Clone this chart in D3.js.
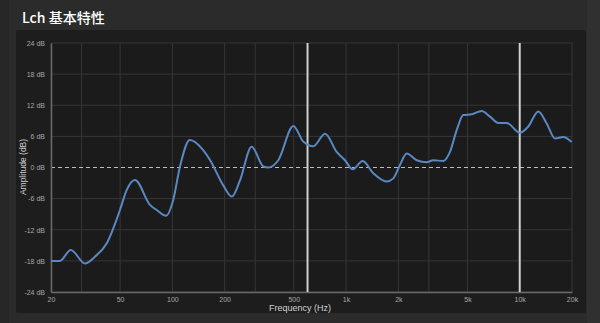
<!DOCTYPE html>
<html>
<head>
<meta charset="utf-8">
<script src="https://cdn.jsdelivr.net/npm/d3@7"></script>
<style>
  html, body { margin: 0; padding: 0; background: #2b2b2b; }
  svg { display: block; }
</style>
</head>
<body>
<svg class="resp" width="600" height="323"></svg>
<script>
// frequency response
const freqs = [20, 22.5, 26, 31.4, 35.8, 41.9, 49.9, 54.6, 60.9, 74.3, 81.2, 91.9, 101, 110.6, 126,
    150, 165, 196, 220, 245, 286, 334, 357, 407, 497, 567, 648, 757, 883, 986, 1092, 1247,
    1435, 1714, 1871, 2044, 2234, 2551, 2913, 3180, 3630, 3966, 4336, 4733, 5290, 6040,
    6744, 7528, 8414, 10036, 11204, 12794, 14300, 15960, 17820, 19910];
const levels = [-18.0, -18.0, -15.9, -18.5, -17.2, -14.6, -8.2, -4.3, -2.4, -7.2, -8.2, -9.3, -6.3, 0.2, 5.3,
    3.4, 1.4, -3.4, -5.6, -2.5, 4.0, 0.2, 0.0, 1.4, 8.0, 5.0, 4.1, 6.5, 3.0, 1.4, -0.35, 1.25,
    -1.1, -2.7, -2.1, 0.5, 2.7, 1.4, 1.0, 1.4, 1.25, 3.0, 7.2, 10.1, 10.25, 10.9,
    9.8, 8.6, 8.6, 6.7, 7.9, 10.8, 8.5, 5.6, 5.9, 4.9];

const gridFreqs = [20, 30, 50, 100, 200, 300, 500, 1000, 2000, 3000, 5000, 10000, 20000];
const tickFreqs = [20, 50, 100, 200, 500, 1000, 2000, 5000, 10000, 20000];
const tickLabels = ["20", "50", "100", "200", "500", "1k", "2k", "5k", "10k", "20k"];
const dbTicks = [-24, -18, -12, -6, 0, 6, 12, 18, 24];
const markers = [600, 10000];

const svg = d3.select("svg.resp");

// side strips and panel
svg.append("rect").attr("x", 0).attr("y", 0).attr("width", 9).attr("height", 323).attr("fill", "#272727");
svg.append("rect").attr("x", 587).attr("y", 0).attr("width", 13).attr("height", 323).attr("fill", "#303030");
svg.append("rect").attr("x", 16).attr("y", 30).attr("width", 570).attr("height", 283)
    .attr("rx", 2).attr("fill", "#1d1d1d");

svg.append("text")
    .attr("x", 22).attr("y", 23)
    .attr("fill", "#ffffff")
    .style("font-family", "'Noto Sans CJK SC', 'Noto Sans', sans-serif")
    .style("font-size", "14px")
    .style("font-weight", "500")
    .text("Lch 基本特性");

const margin = { top: 43, left: 51 };
const width = 521, height = 249;
const g = svg.append("g").attr("transform", `translate(${margin.left}, ${margin.top})`);

const x = d3.scaleLog().domain([20, 20000]).range([0, width]);
const y = d3.scaleLinear().domain([-24, 24]).range([height, 0]);

g.append("rect").attr("width", width).attr("height", height).attr("fill", "#1b1b1b");

// grid
g.selectAll(".vgrid").data(gridFreqs).enter().append("line")
    .attr("x1", d => x(d)).attr("x2", d => x(d))
    .attr("y1", 0).attr("y2", height)
    .attr("stroke", "#363636").attr("stroke-width", 1);
g.selectAll(".hgrid").data(dbTicks.filter(d => d !== 0)).enter().append("line")
    .attr("x1", 0).attr("x2", width)
    .attr("y1", d => y(d)).attr("y2", d => y(d))
    .attr("stroke", "#363636").attr("stroke-width", 1);

// 0 dB reference
g.append("line")
    .attr("x1", 0).attr("x2", width)
    .attr("y1", y(0)).attr("y2", y(0))
    .attr("stroke", "#bdbdbd").attr("stroke-width", 1.2)
    .attr("stroke-dasharray", "4,3");

// axes
const yAxis = g.append("g")
    .call(d3.axisLeft(y).tickValues(dbTicks).tickSize(0).tickPadding(6).tickFormat(d => `${d} dB`));
const xAxis = g.append("g")
    .attr("transform", `translate(0, ${height})`)
    .call(d3.axisBottom(x).tickValues(tickFreqs).tickSize(0).tickPadding(5)
        .tickFormat((d, i) => tickLabels[i]));
[yAxis, xAxis].forEach(a => {
    a.select(".domain").attr("stroke", "#6a6a6a").attr("stroke-width", 1.5);
    a.selectAll("text")
        .attr("fill", "#a8a8a8")
        .style("font-family", "'Liberation Sans', Arial, sans-serif")
        .style("font-size", "7px");
});

// marker lines
g.selectAll(".marker").data(markers).enter().append("line")
    .attr("x1", d => x(d)).attr("x2", d => x(d))
    .attr("y1", 0).attr("y2", height)
    .attr("stroke", "#d0d0d0").attr("stroke-width", 2);

// response curve
const line = d3.line()
    .x((d, i) => x(freqs[i]))
    .y(d => y(d))
    .curve(d3.curveMonotoneX);
g.append("path")
    .datum(levels)
    .attr("d", line)
    .attr("fill", "none")
    .attr("stroke", "#5a88c2")
    .attr("stroke-width", 2);

// axis titles
svg.append("text")
    .attr("x", 300).attr("y", 311)
    .attr("text-anchor", "middle")
    .attr("fill", "#d0d0d0")
    .style("font-family", "'Liberation Sans', Arial, sans-serif")
    .style("font-size", "9px")
    .text("Frequency (Hz)");
svg.append("text")
    .attr("transform", "translate(26, 167) rotate(-90)")
    .attr("text-anchor", "middle")
    .attr("fill", "#d0d0d0")
    .style("font-family", "'Liberation Sans', Arial, sans-serif")
    .style("font-size", "8.5px")
    .text("Amplitude (dB)");
</script>
</body>
</html>
